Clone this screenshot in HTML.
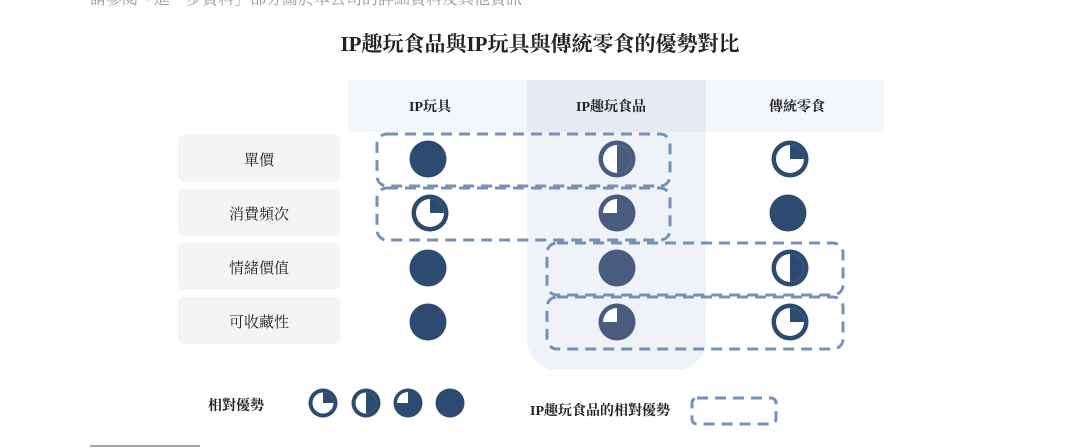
<!DOCTYPE html>
<html><head><meta charset="utf-8"><style>
html,body{margin:0;padding:0;background:#fff;}
svg{display:block;}
text{font-family:"Liberation Serif","Noto Serif CJK SC",serif;}
</style></head><body>
<svg width="1080" height="448" viewBox="0 0 1080 448">
<text x="90" y="4" font-size="16" fill="#999">請參閱「進一步資料」部分關於本公司的詳細資料及其他資訊</text>
<text x="540" y="51" font-size="21" font-weight="bold" text-anchor="middle" fill="#222">IP趣玩食品與IP玩具與傳統零食的優勢對比</text>
<rect x="348" y="80" width="536" height="52" fill="#f3f6fa"/>
<path d="M527 80 H706 V340 A30 30 0 0 1 676 370 H557 A30 30 0 0 1 527 340 Z" fill="#eff3f8"/>
<rect x="527" y="80" width="179" height="52" fill="#e6ebf3"/>
<g font-size="14" font-weight="bold" fill="#222" text-anchor="middle">
<text x="430" y="111">IP玩具</text><text x="611" y="111">IP趣玩食品</text><text x="797" y="111">傳統零食</text></g>
<g fill="#f4f4f4">
<rect x="178" y="135" width="162" height="47" rx="6"/><rect x="178" y="189" width="162" height="47" rx="6"/>
<rect x="178" y="243" width="162" height="47" rx="6"/><rect x="178" y="297" width="162" height="47" rx="6"/></g>
<g font-size="15" fill="#222" text-anchor="middle">
<text x="259" y="165">單價</text><text x="259" y="219">消費頻次</text><text x="259" y="273">情緒價值</text><text x="259" y="327">可收藏性</text></g>

<g>
<circle cx="428" cy="159" r="18.5" fill="#2d4a70"/>
<circle cx="788" cy="213" r="18.5" fill="#2d4a70"/>
<circle cx="428" cy="268" r="18.5" fill="#2d4a70"/>
<circle cx="428" cy="322" r="18.5" fill="#2d4a70"/>
<circle cx="617" cy="268" r="18.5" fill="#4a5b80"/>
<circle cx="617" cy="159" r="18.5" fill="#4a5b80"/><circle cx="617" cy="159" r="14" fill="#fff"/><path d="M617 145 A14 14 0 0 1 617 173 Z" fill="#4a5b80"/>
<circle cx="790" cy="268" r="18.5" fill="#2d4a70"/><circle cx="790" cy="268" r="14" fill="#fff"/><path d="M790 254 A14 14 0 0 1 790 282 Z" fill="#2d4a70"/>
<circle cx="790" cy="159" r="18.5" fill="#2d4a70"/><circle cx="790" cy="159" r="14" fill="#fff"/><path d="M790 159 L790 145 A14 14 0 0 1 804 159 Z" fill="#2d4a70"/>
<circle cx="430" cy="213" r="18.5" fill="#2d4a70"/><circle cx="430" cy="213" r="14" fill="#fff"/><path d="M430 213 L430 199 A14 14 0 0 1 444 213 Z" fill="#2d4a70"/>
<circle cx="790" cy="322" r="18.5" fill="#2d4a70"/><circle cx="790" cy="322" r="14" fill="#fff"/><path d="M790 322 L790 308 A14 14 0 0 1 804 322 Z" fill="#2d4a70"/>
<circle cx="617" cy="213" r="18.5" fill="#4a5b80"/><path d="M617 213 L617 199 A14 14 0 0 0 603 213 Z" fill="#fff"/>
<circle cx="617" cy="322" r="18.5" fill="#4a5b80"/><path d="M617 322 L617 308 A14 14 0 0 0 603 322 Z" fill="#fff"/>
</g>

<g fill="none" stroke="#7592b5" stroke-width="3" stroke-dasharray="11 7">
<rect x="377" y="134" width="293" height="52" rx="10"/>
<rect x="377" y="188" width="293" height="52" rx="10"/>
<rect x="547" y="243" width="296" height="52" rx="10"/>
<rect x="547" y="297" width="296" height="52" rx="10"/>
<rect x="692" y="398" width="84" height="26" rx="5"/>
</g>

<text x="208" y="410" font-size="14" font-weight="bold" fill="#222">相對優勢</text>
<g>
<circle cx="323" cy="403" r="14.5" fill="#2d4a70"/><circle cx="323" cy="403" r="10.5" fill="#fff"/><path d="M323 403 L323 392.5 A10.5 10.5 0 0 1 333.5 403 Z" fill="#2d4a70"/>
<circle cx="366" cy="403" r="14.5" fill="#2d4a70"/><circle cx="366" cy="403" r="10.5" fill="#fff"/><path d="M366 392.5 A10.5 10.5 0 0 1 366 413.5 Z" fill="#2d4a70"/>
<circle cx="408" cy="403" r="14.5" fill="#2d4a70"/><path d="M408 403 L408 392 A11 11 0 0 0 397 403 Z" fill="#fff"/>
<circle cx="450" cy="403" r="14.5" fill="#2d4a70"/>
</g>
<text x="530" y="415" font-size="14" font-weight="bold" fill="#222">IP趣玩食品的相對優勢</text>
<line x1="90" y1="446" x2="200" y2="446" stroke="#888" stroke-width="1.5"/>
</svg>
</body></html>
